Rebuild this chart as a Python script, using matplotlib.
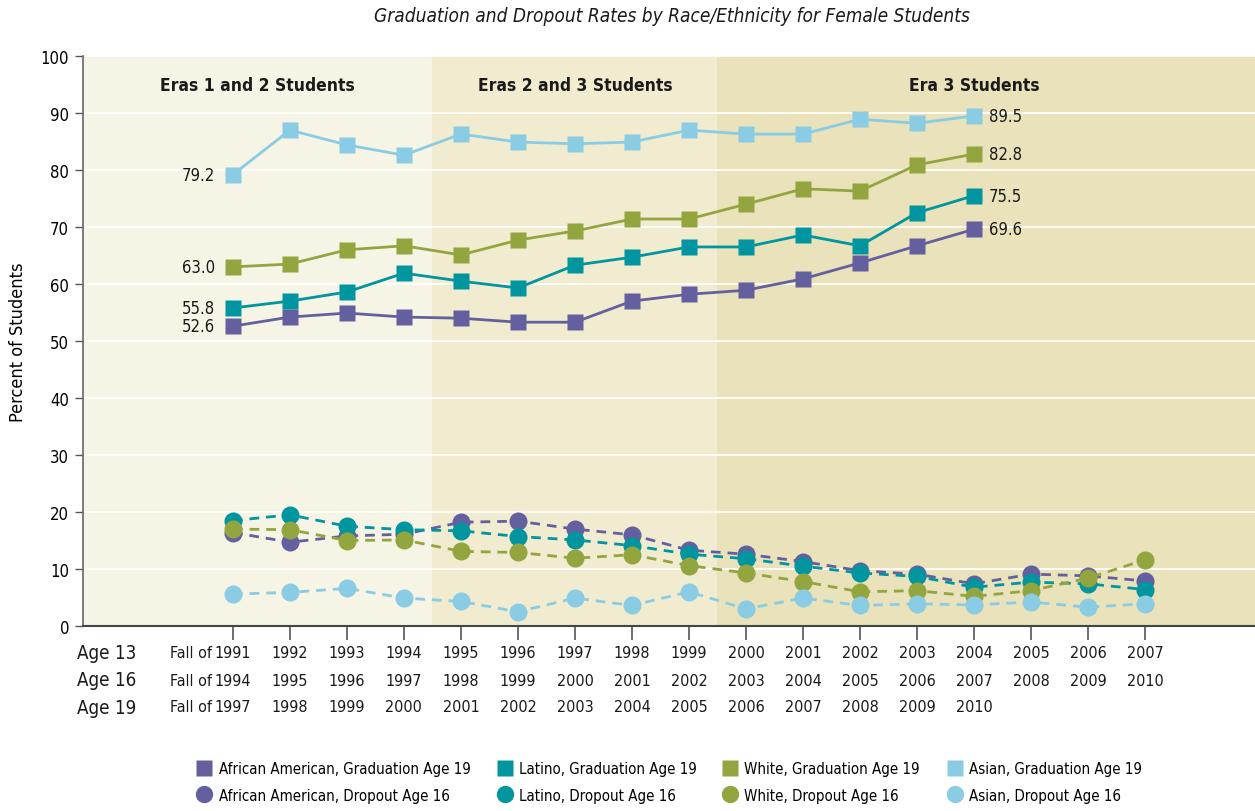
import matplotlib
matplotlib.use("Agg")
import matplotlib.pyplot as plt
from matplotlib.lines import Line2D
from matplotlib.transforms import blended_transform_factory

plt.rcParams['font.family'] = ['DejaVu Sans']
plt.rcParams['font.stretch'] = 'condensed'

# ---------------- data ----------------
age13 = ["Fall of 1991", "1992", "1993", "1994", "1995", "1996", "1997", "1998", "1999",
         "2000", "2001", "2002", "2003", "2004", "2005", "2006", "2007"]
age16 = ["Fall of 1994", "1995", "1996", "1997", "1998", "1999", "2000", "2001", "2002",
         "2003", "2004", "2005", "2006", "2007", "2008", "2009", "2010"]
age19 = ["Fall of 1997", "1998", "1999", "2000", "2001", "2002", "2003", "2004", "2005",
         "2006", "2007", "2008", "2009", "2010"]

grad_aa = [52.6, 54.2, 54.9, 54.2, 54.0, 53.3, 53.3, 57.0, 58.2, 58.9, 60.9, 63.7, 66.7, 69.6]
grad_lat = [55.8, 57.0, 58.6, 61.9, 60.5, 59.3, 63.3, 64.7, 66.5, 66.5, 68.6, 66.7, 72.5, 75.5]
grad_wht = [63.0, 63.5, 66.0, 66.7, 65.1, 67.7, 69.3, 71.4, 71.4, 74.0, 76.7, 76.3, 80.9, 82.8]
grad_asn = [79.2, 87.0, 84.4, 82.6, 86.3, 84.9, 84.6, 84.9, 87.0, 86.3, 86.3, 88.9, 88.2, 89.5]

drop_aa = [16.4, 14.7, 15.8, 16.1, 18.2, 18.4, 17.0, 16.0, 13.3, 12.6, 11.3, 9.7, 9.1, 7.4, 9.1, 8.8, 7.9]
drop_lat = [18.5, 19.5, 17.5, 16.9, 16.7, 15.7, 15.1, 14.1, 12.6, 11.8, 10.5, 9.3, 8.7, 6.8, 7.7, 7.4, 6.4]
drop_wht = [17.0, 16.9, 15.0, 15.1, 13.1, 12.9, 11.9, 12.5, 10.6, 9.3, 7.8, 6.0, 6.2, 5.2, 6.2, 8.4, 11.6]
drop_asn = [5.6, 5.9, 6.6, 4.9, 4.3, 2.5, 4.9, 3.6, 6.0, 3.0, 4.9, 3.6, 3.9, 3.7, 4.2, 3.3, 3.9]

groups = ["African American", "Latino", "White", "Asian"]
colors = ["#64609f", "#00959f", "#93a53f", "#8accE4"]
grads = [grad_aa, grad_lat, grad_wht, grad_asn]
drops = [drop_aa, drop_lat, drop_wht, drop_asn]

eras = ["Eras 1 and 2 Students", "Eras 2 and 3 Students", "Era 3 Students"]
era_colors = ["#f6f4e5", "#f1ecd0", "#e9e2ba"]

# ---------------- figure ----------------
fig = plt.figure(figsize=(12.55, 8.12), dpi=100)
ax = fig.add_axes([83 / 1255, 1 - 627 / 812, 1 - 83 / 1255, (627 - 57) / 812])

xmin, xmax = -2.63, 17.93
ax.set_xlim(xmin, xmax)
ax.set_ylim(0, 100)

bounds = [xmin, 3.5, 8.5, xmax]
for i in range(3):
    ax.axvspan(bounds[i], bounds[i + 1], color=era_colors[i], zorder=0, lw=0)
era_x = [(bounds[0] + bounds[1]) / 2, (bounds[1] + bounds[2]) / 2, 13.0]
for lab, ex in zip(eras, era_x):
    ax.text(ex, 94.9, lab, ha="center", va="center", fontsize=12.5, fontweight="bold", color="#1a1a1a")

ax.set_yticks(range(0, 101, 10))
ax.yaxis.grid(True, color="white", lw=1.2, zorder=1)
ax.set_axisbelow(True)

ax.set_xticks(range(len(age13)))
ax.set_xticklabels([])
ax.tick_params(axis="x", length=10, width=1.2, color="#555555", direction="out")
ax.tick_params(axis="y", length=6, width=1, color="#555555", labelsize=12, pad=4)
for s in ["top", "right"]:
    ax.spines[s].set_visible(False)
ax.spines["left"].set_color("#666666")
ax.spines["left"].set_linewidth(1.2)
ax.spines["bottom"].set_color("#444444")
ax.spines["bottom"].set_linewidth(1.5)

for g, c, gr, dr in zip(groups, colors, grads, drops):
    ax.plot(range(len(dr)), dr, color=c, lw=2.0, ls=(0, (3.5, 2.5)), marker="o",
            ms=13, mec="none", zorder=3)
for g, c, gr, dr in zip(groups, colors, grads, drops):
    ax.plot(range(len(gr)), gr, color=c, lw=2.0, marker="s", ms=11.5, mec="none", zorder=4)
    ax.annotate(f"{gr[0]:.1f}", (0, gr[0]), xytext=(-13, 0), textcoords="offset points",
                ha="right", va="center", fontsize=12, color="#1a1a1a")
    ax.annotate(f"{gr[-1]:.1f}", (len(gr) - 1, gr[-1]), xytext=(11, 0), textcoords="offset points",
                ha="left", va="center", fontsize=12, color="#1a1a1a")

ax.set_ylabel("Percent of Students", fontsize=13, labelpad=10)

# x labels rows: the year is centred on the tick, a "Fall of" prefix sits to its left
trans = blended_transform_factory(ax.transData, ax.transAxes)
rows = [age13, age16, age19]
row_names = ["Age 13", "Age 16", "Age 19"]
for r, (row, nm) in enumerate(zip(rows, row_names)):
    dy = -(27 + 27 * r) / 100 * 72
    for i, lab in enumerate(row):
        parts = lab.rsplit(" ", 1)
        year = parts[-1]
        t = ax.annotate(year, (i, 0), xycoords=trans, xytext=(0, dy), textcoords="offset points",
                        ha="center", va="center", fontsize=11.5, color="#1a1a1a", annotation_clip=False)
        if len(parts) > 1:
            ax.annotate(parts[0], (0, 0.5), xycoords=t, xytext=(-2.2, 0), textcoords="offset points",
                        ha="right", va="center", fontsize=11.5, color="#1a1a1a", annotation_clip=False)
    fig.text(77 / 1255, 1 - (654 + 27 * r) / 812, nm, ha="left", va="center", fontsize=13.5, color="#1a1a1a")

fig.text(672 / 1255, 1 - 17 / 812, "Graduation and Dropout Rates by Race/Ethnicity for Female Students",
         ha="center", va="center", fontsize=13.7, style="italic", color="#1a1a1a")

col_x = [197, 497, 722, 947]
for g, c, cx in zip(groups, colors, col_x):
    h = [Line2D([], [], ls="none", marker="s", ms=11, mec="none", color=c),
         Line2D([], [], ls="none", marker="o", ms=12.5, mec="none", color=c)]
    l = [f"{g}, Graduation Age 19", f"{g}, Dropout Age 16"]
    fig.legend(h, l, loc="center left", bbox_to_anchor=(cx / 1255, 1 - 783 / 812),
               frameon=False, fontsize=10.8, handletextpad=0.45, labelspacing=0.75,
               handlelength=1.0, borderpad=0, borderaxespad=0)

fig.savefig("out.png", dpi=100)
